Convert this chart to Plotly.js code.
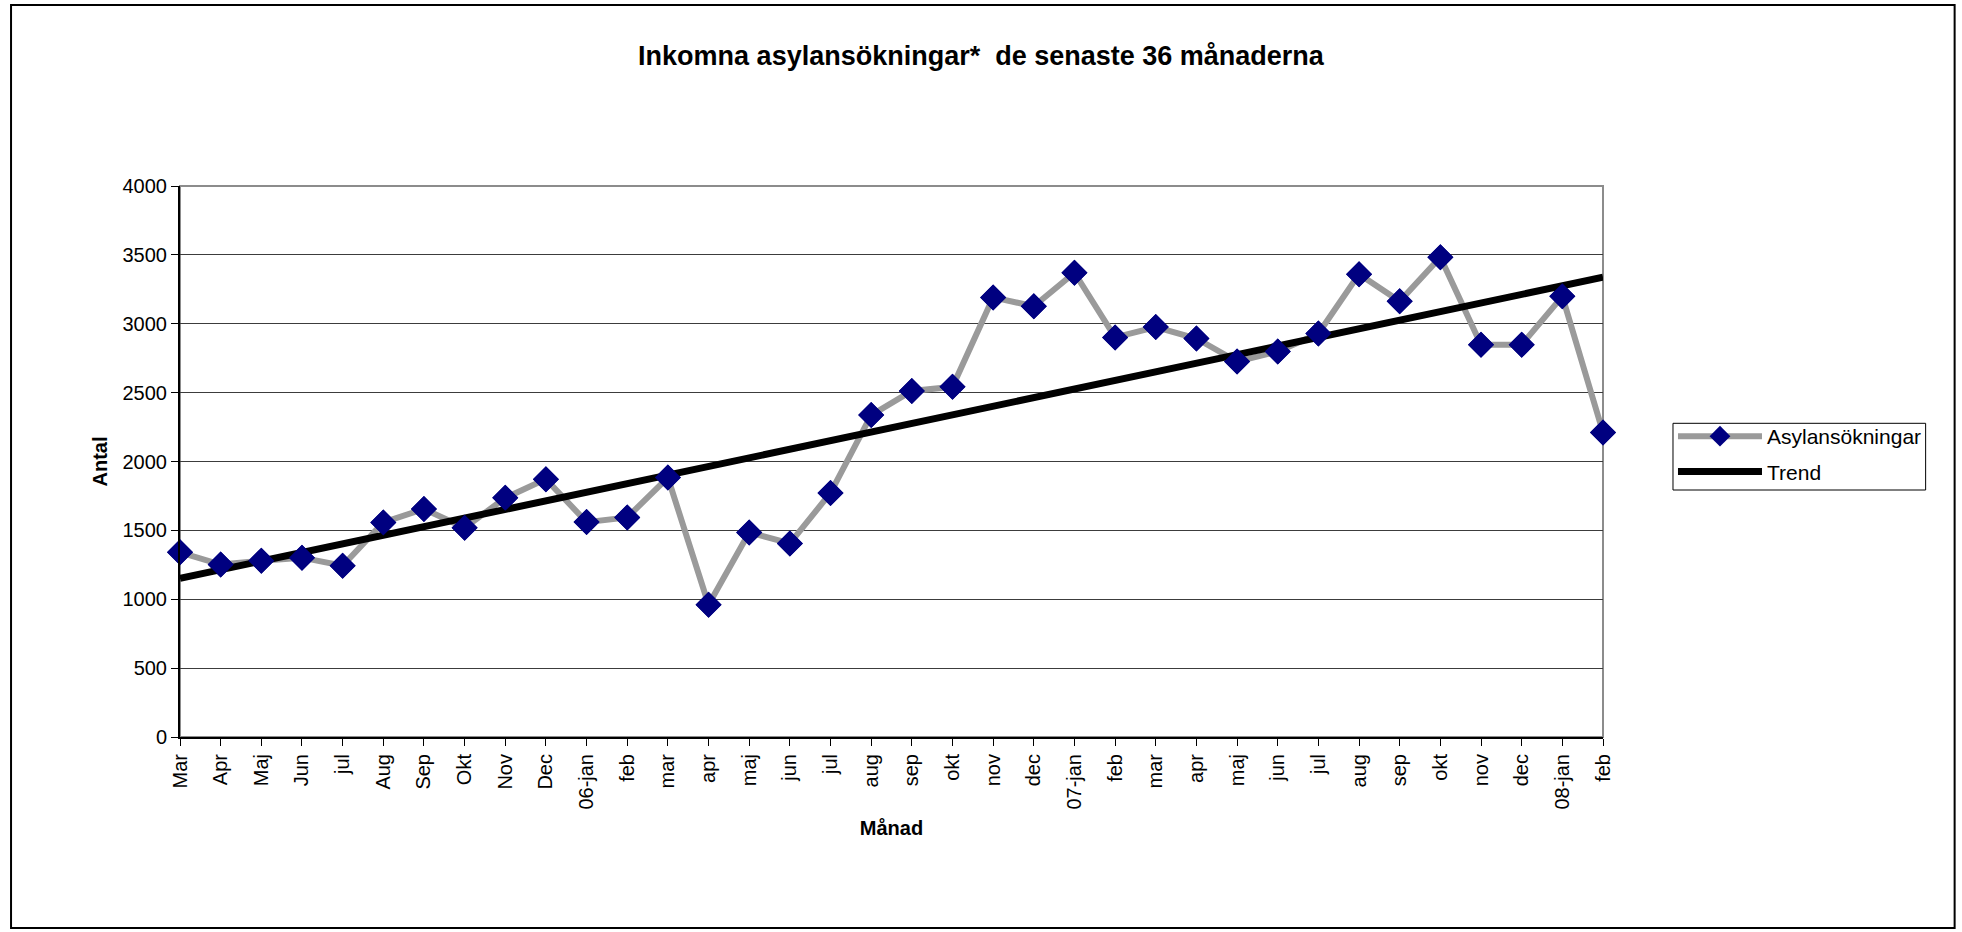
<!DOCTYPE html>
<html>
<head>
<meta charset="utf-8">
<script src="https://cdn.plot.ly/plotly-3.0.1.min.js"></script>
<style>
  html, body { margin: 0; padding: 0; background: #ffffff; }
  #chart { width: 1962px; height: 932px; }
</style>
</head>
<body>
<div id="chart"></div>
<script>
// ---- Data ----
const monthLabels = [
  "Mar", "Apr", "Maj", "Jun", "jul", "Aug", "Sep", "Okt", "Nov", "Dec",
  "06-jan", "feb", "mar", "apr", "maj", "jun", "jul", "aug", "sep", "okt", "nov", "dec",
  "07-jan", "feb", "mar", "apr", "maj", "jun", "jul", "aug", "sep", "okt", "nov", "dec",
  "08-jan", "feb"
];
const asylansokningar = [
  1341, 1252, 1280, 1302, 1243, 1558, 1655, 1519, 1736, 1872,
  1560, 1594, 1883, 960, 1485, 1405, 1772, 2337, 2512, 2542, 3191, 3127,
  3371, 2901, 2976, 2893, 2726, 2798, 2929, 3360, 3163, 3483, 2848, 2848,
  3199, 2211
];
// Trend line end points (first and last month)
const trendMonthIndex = [0, 35];
const trendValues = [1152, 3338];

const monthIndex = monthLabels.map((_, i) => i);

const FONT = "Liberation Sans, Arial, sans-serif";
const seriesLine = { color: "#9a9a9a", width: 6 };
const seriesMarker = { symbol: "diamond", size: 20, color: "#000080", line: { width: 0 } };

const traces = [
  {
    type: "scatter",
    mode: "lines+markers",
    name: "Asylansökningar",
    legendgroup: "a",
    legendrank: 1,
    x: monthIndex,
    y: asylansokningar,
    line: seriesLine,
    marker: seriesMarker,
    cliponaxis: false
  },
  {
    type: "scatter",
    mode: "lines",
    name: "Trend",
    legendgroup: "b",
    legendrank: 2,
    x: trendMonthIndex,
    y: trendValues,
    line: { color: "#000000", width: 7 },
    cliponaxis: false,
    hoverinfo: "skip"
  },
  {
    // markers again, drawn above the trend line
    type: "scatter",
    mode: "markers",
    name: "Asylansökningar",
    legendgroup: "a",
    showlegend: false,
    x: monthIndex,
    y: asylansokningar,
    marker: seriesMarker,
    cliponaxis: false
  }
];

const plotL = 180, plotR = 1603.3, plotT = 186, plotB = 737;
const W = 1962, H = 932;
const pw = plotR - plotL, ph = plotB - plotT;
function px2paperX(p) { return (p - plotL) / pw; }
function px2paperY(p) { return (plotB - p) / ph; }

const layout = {
  width: W,
  height: H,
  paper_bgcolor: "#ffffff",
  plot_bgcolor: "#ffffff",
  margin: { l: plotL, r: W - plotR, t: plotT, b: H - plotB, pad: 0 },
  font: { family: FONT, size: 20, color: "#000000" },
  showlegend: true,
  title: {
    text: "<b>Inkomna asylansökningar*  de senaste 36 månaderna</b>",
    font: { family: FONT, size: 27, color: "#000000" },
    x: 0.5, xref: "container", xanchor: "center",
    y: 1 - 56 / H, yref: "container", yanchor: "middle"
  },
  xaxis: {
    range: [0, 35],
    tickmode: "array",
    tickvals: monthIndex,
    ticktext: monthLabels,
    tickangle: -90,
    ticks: "outside",
    ticklen: 7,
    tickwidth: 1,
    tickcolor: "#000000",
    showgrid: false,
    zeroline: false,
    showline: true,
    linecolor: "#000000",
    linewidth: 2,
    tickfont: { family: FONT, size: 20, color: "#000000" },
    title: {
      text: "<b>Månad</b>",
      font: { family: FONT, size: 20, color: "#000000" },
      standoff: 12
    },
    fixedrange: true
  },
  yaxis: {
    range: [0, 4000],
    dtick: 500,
    tick0: 0,
    ticks: "outside",
    ticklen: 7,
    tickwidth: 1,
    tickcolor: "#000000",
    showgrid: true,
    gridcolor: "#3c3c3c",
    gridwidth: 1,
    zeroline: false,
    showline: true,
    linecolor: "#000000",
    linewidth: 2,
    tickfont: { family: FONT, size: 20, color: "#000000" },
    title: {
      text: "<b>Antal</b>",
      font: { family: FONT, size: 20, color: "#000000" },
      standoff: 10
    },
    fixedrange: true
  },
  legend: {
    x: px2paperX(1673.3),
    y: px2paperY(416),
    xanchor: "left",
    yanchor: "top",
    xref: "paper",
    yref: "paper",
    bgcolor: "rgba(0,0,0,0)",
    bordercolor: "#000000",
    borderwidth: 0,
    font: { family: FONT, size: 21, color: "#000000" },
    traceorder: "grouped",
    tracegroupgap: 5,
    itemwidth: 84
  },
  shapes: [
    // gray plot-area frame (top and right edges visible)
    {
      type: "rect", xref: "paper", yref: "paper",
      x0: 0, x1: 1, y0: 0, y1: 1,
      line: { color: "#8c8c8c", width: 2 },
      fillcolor: "rgba(0,0,0,0)",
      layer: "between"
    },
    // legend frame
    {
      type: "rect", xref: "paper", yref: "paper",
      x0: px2paperX(1673.3), x1: px2paperX(1926),
      y0: px2paperY(490), y1: px2paperY(423.3),
      line: { color: "#000000", width: 1 },
      fillcolor: "#ffffff",
      layer: "below"
    },
    // outer chart border
    {
      type: "rect", xref: "paper", yref: "paper",
      x0: px2paperX(11), x1: px2paperX(1955),
      y0: px2paperY(928), y1: px2paperY(5),
      line: { color: "#000000", width: 2 },
      fillcolor: "rgba(0,0,0,0)",
      layer: "below"
    }
  ]
};

Plotly.newPlot("chart", traces, layout, { staticPlot: true, displayModeBar: false });
</script>
</body>
</html>
